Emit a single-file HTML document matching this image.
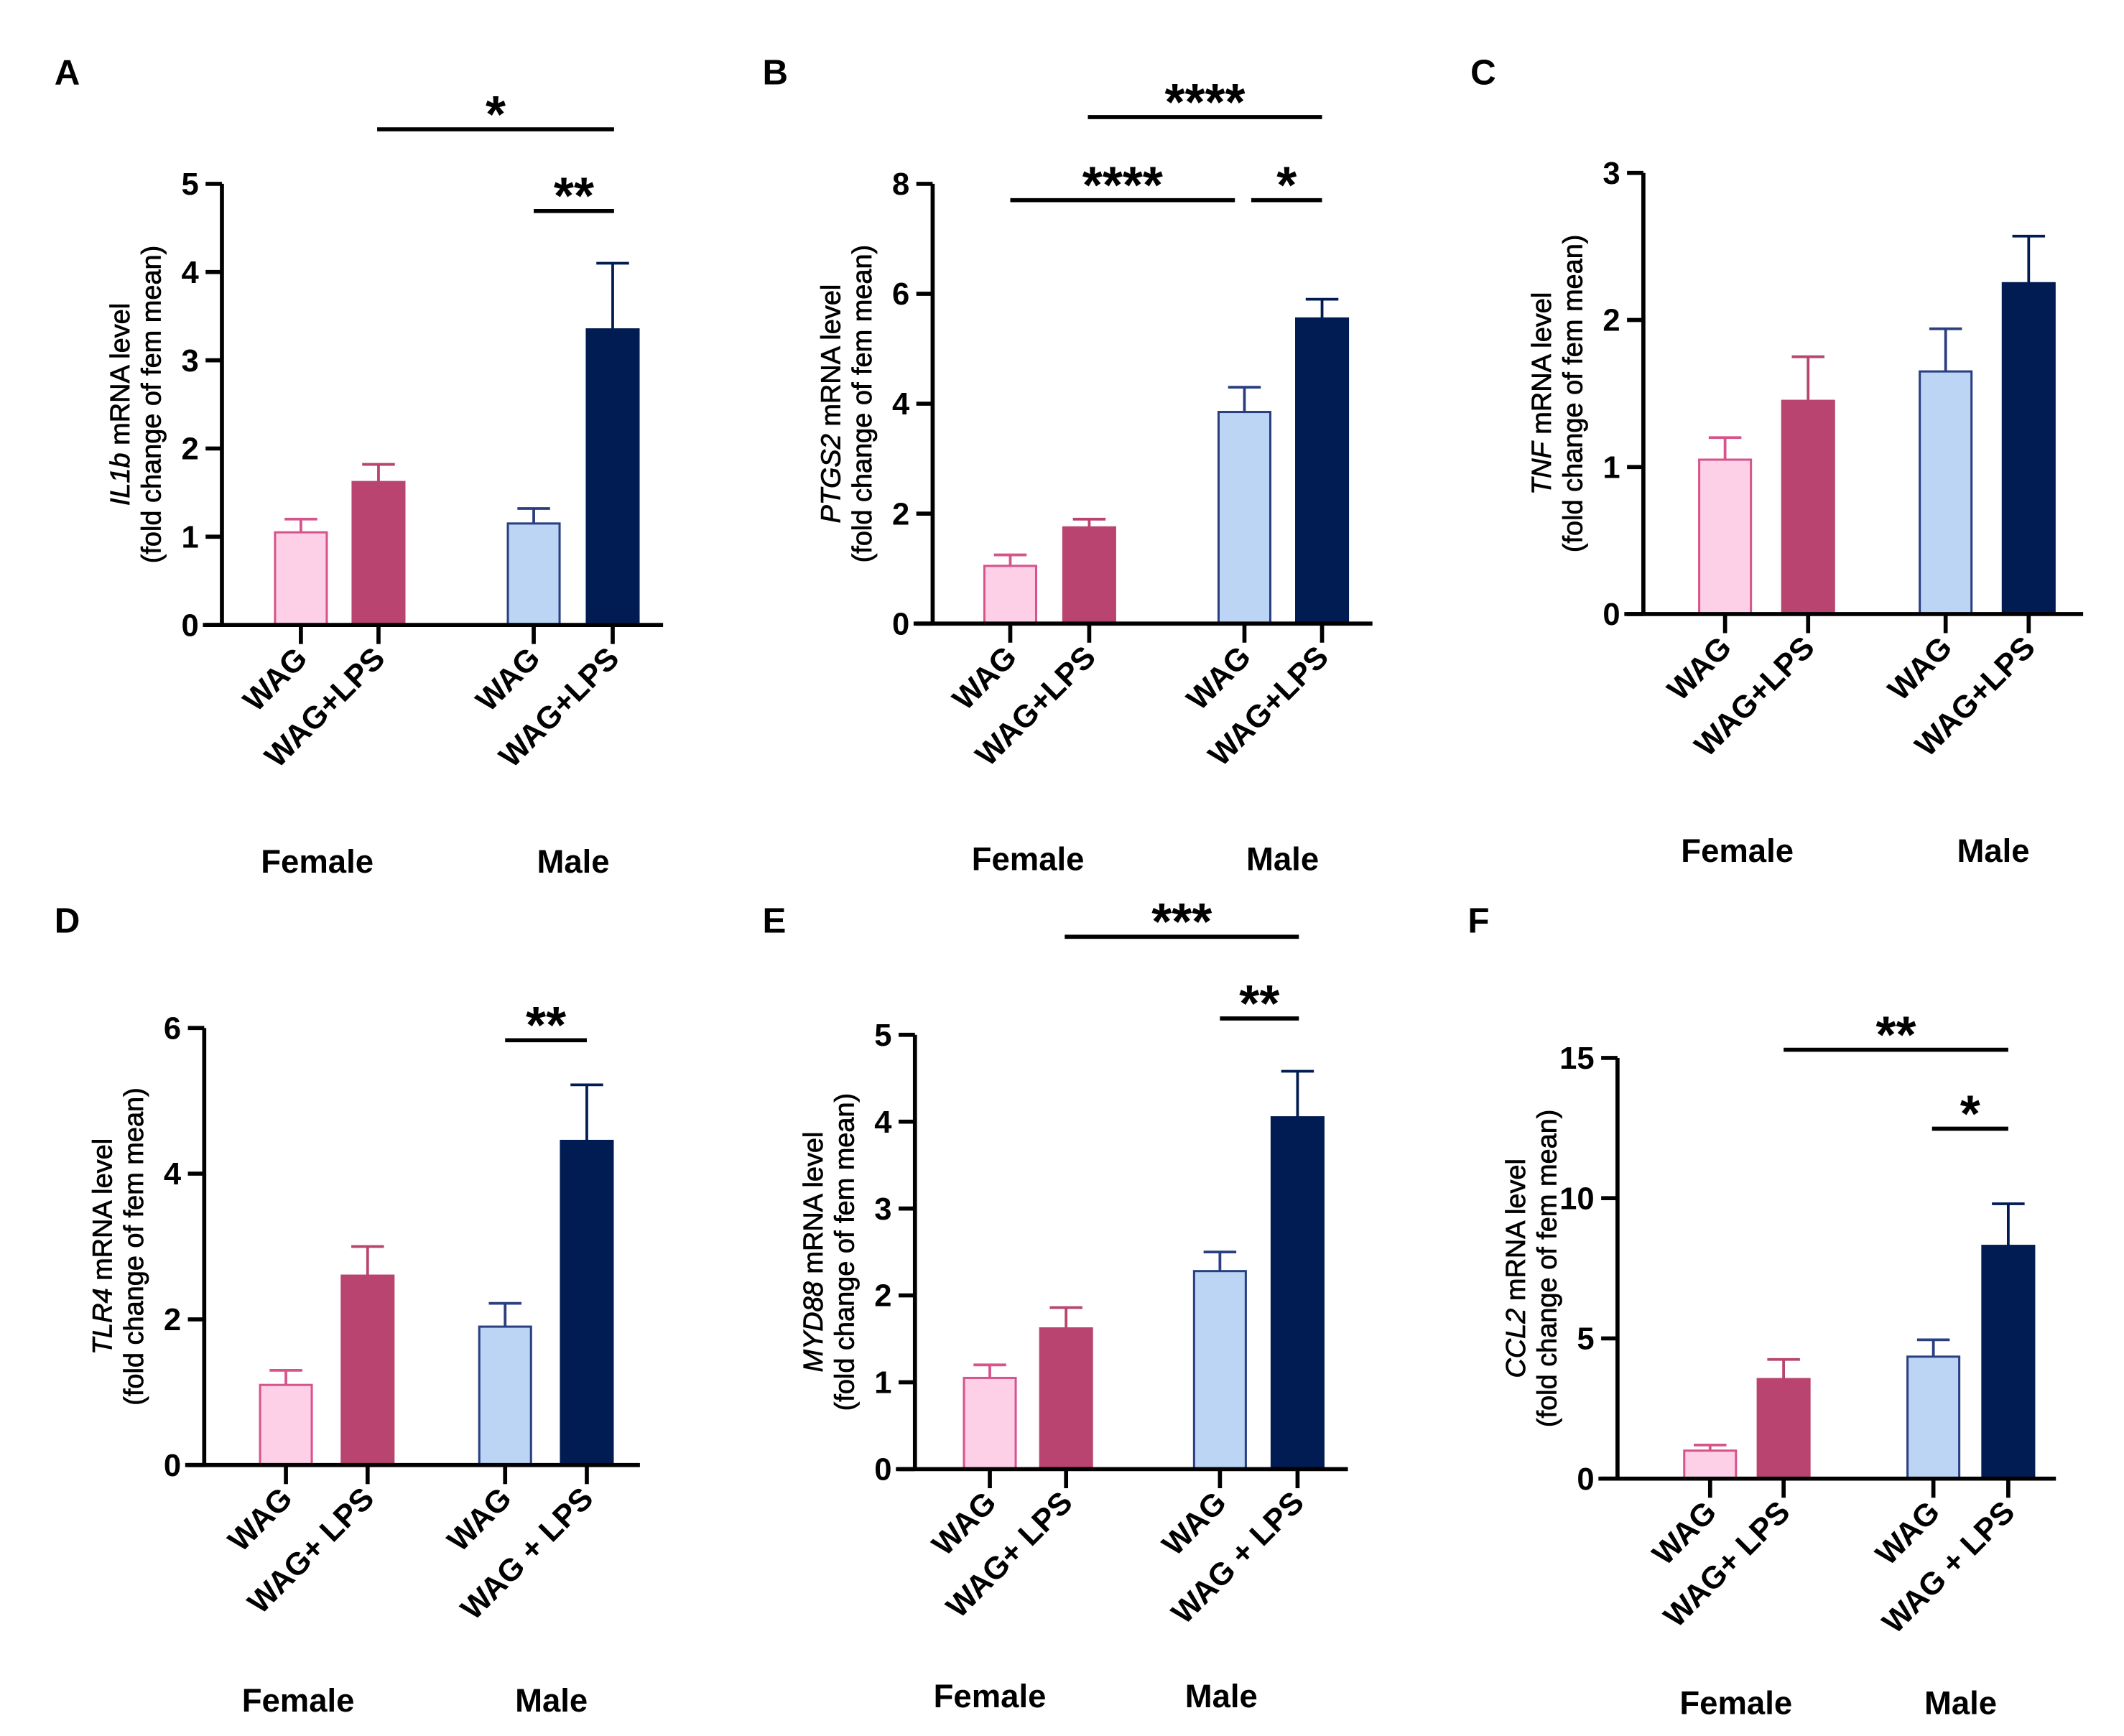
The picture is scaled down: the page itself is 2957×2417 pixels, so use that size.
<!DOCTYPE html>
<html><head><meta charset="utf-8"><style>
html,body{margin:0;padding:0;background:#fff;}
svg{display:block;font-family:"Liberation Sans",Arial,sans-serif;}
</style></head><body>
<svg id="fig" width="2957" height="2417" viewBox="0 0 1560 1275" preserveAspectRatio="none" xmlns="http://www.w3.org/2000/svg"></svg>
<script>
// Data per panel
const categories = ["WAG", "WAG+LPS", "WAG", "WAG+LPS"];
const groupLabels = ["Female", "Male"];
const valuesA = [1.05, 1.62, 1.15, 3.35];
const errorsA = [1.2, 1.82, 1.32, 4.1];
const valuesB = [1.05, 1.75, 3.85, 5.55];
const errorsB = [1.25, 1.9, 4.3, 5.9];
const valuesC = [1.05, 1.45, 1.65, 2.25];
const errorsC = [1.2, 1.75, 1.94, 2.57];
const valuesD = [1.1, 2.6, 1.9, 4.45];
const errorsD = [1.3, 3.0, 2.22, 5.22];
const valuesE = [1.05, 1.62, 2.28, 4.05];
const errorsE = [1.2, 1.86, 2.5, 4.58];
const valuesF = [1.0, 3.55, 4.35, 8.3];
const errorsF = [1.2, 4.25, 4.95, 9.8];
const ticksA = [0, 1, 2, 3, 4, 5];
const ticksB = [0, 2, 4, 6, 8];
const ticksC = [0, 1, 2, 3];
const ticksD = [0, 2, 4, 6];
const ticksE = [0, 1, 2, 3, 4, 5];
const ticksF = [0, 5, 10, 15];
const catsAlt = ["WAG", "WAG+ LPS", "WAG", "WAG + LPS"];

const NS = "http://www.w3.org/2000/svg";
const svg = document.getElementById("fig");
function mk(tag, attrs, parent, text) {
  const e = document.createElementNS(NS, tag);
  for (const k in attrs) e.setAttribute(k, attrs[k]);
  if (text !== undefined) e.textContent = text;
  (parent || svg).appendChild(e);
  return e;
}
const fills = ["#fdd0e8", "#b8446f", "#bcd5f5", "#001c52"];
const strokes = ["#d6548b", "#b8446f", "#2a3f80", "#001c52"];

function panel(p) {
  const g = mk("g", {});
  
  
  const ymax = p.ticks[p.ticks.length - 1];
  const ys = v => p.y0 - (v / ymax) * (p.y0 - p.ytop);
  const lbl = mk("text", {x: p.lx, y: p.ly, "font-size": 26, "font-weight": "bold"}, g, p.letter);
  
  
  p.values.forEach((v, i) => {
    const cx = p.bx[i], w = 38;
    const sc = strokes[i];
    const eb = mk("path", {d: `M${cx} ${ys(v)}V${ys(p.errors[i])}M${cx - 12} ${ys(p.errors[i])}H${cx + 12}`, stroke: sc, "stroke-width": 2, fill: "none"}, g);
    
    
    const r = mk("rect", {x: cx - w / 2, y: ys(v), width: w, height: p.y0 - ys(v), fill: fills[i], stroke: sc, "stroke-width": 1.6}, g);
    
    
    const tk = mk("line", {x1: cx, x2: cx, y1: p.y0, y2: p.y0 + 14, stroke: "#000", "stroke-width": 3}, g);
    
    
    const t = mk("text", {x: cx + 6, y: p.y0 + 26, "font-size": 23, "font-weight": "bold", "text-anchor": "end", transform: `rotate(-45 ${cx + 6} ${p.y0 + 26})`}, g, p.cats[i]);
    
    
  });
  const ax = mk("path", {d: `M${p.ax} ${p.ytop}V${p.y0}M${p.ax - 14} ${p.y0}H${p.xend}`, stroke: "#000", "stroke-width": 3, fill: "none"}, g);
  
  
  p.ticks.forEach(t => {
    const y = ys(t);
    const l = mk("line", {x1: p.ax - 12, x2: p.ax, y1: y, y2: y, stroke: "#000", "stroke-width": 3}, g);
    
    
    const tx = mk("text", {x: p.ax - 17, y: y + 8, "font-size": 23, "font-weight": "bold", "text-anchor": "end"}, g, String(t));
    
    
  });
  const yc = (p.y0 + p.ytop) / 2;
  const yt = mk("text", {transform: `translate(${p.ax - 45} ${yc}) rotate(-90)`, "font-size": 20, "text-anchor": "middle", stroke: "#000", "stroke-width": 0.4}, g);
  
  
  mk("tspan", {"font-style": "italic", x: 0, y: -23}, yt, p.gene);
  mk("tspan", {}, yt, " mRNA level");
  mk("tspan", {x: 0, y: 0}, yt, "(fold change of fem mean)");
  groupLabels.forEach((gl, i) => {
    const t = mk("text", {x: p.gx[i], y: p.gy, "font-size": 24, "font-weight": "bold", "text-anchor": "middle"}, g, gl);
    
    
  });
  p.sig.forEach(s => {
    const l = mk("line", {x1: s[0], x2: s[1], y1: s[2], y2: s[2], stroke: "#000", "stroke-width": 3}, g);
    
    
    const t = mk("text", {x: (s[0] + s[1]) / 2, y: s[2] + 2, "font-size": 38, "font-weight": "bold", "text-anchor": "middle"}, g, s[3]);
    
    
  });
}

panel({letter: "A", lx: 40, ly: 62, gene: "IL1b", values: valuesA, errors: errorsA, ticks: ticksA, cats: categories,
  ax: 163, y0: 459, ytop: 135, xend: 487, bx: [221, 278, 392, 450], gx: [233, 421], gy: 641,
  sig: [[277, 451, 95, "*"], [392, 451, 155, "**"]]});
panel({letter: "B", lx: 560, ly: 62, gene: "PTGS2", values: valuesB, errors: errorsB, ticks: ticksB, cats: categories,
  ax: 685, y0: 458, ytop: 135, xend: 1008, bx: [742, 800, 914, 971], gx: [755, 942], gy: 639,
  sig: [[742, 907, 147, "****"], [919, 971, 147, "*"], [799, 971, 86, "****"]]});
panel({letter: "C", lx: 1080, ly: 62, gene: "TNF", values: valuesC, errors: errorsC, ticks: ticksC, cats: categories,
  ax: 1207, y0: 451, ytop: 127, xend: 1530, bx: [1267, 1328, 1429, 1490], gx: [1276, 1464], gy: 633,
  sig: []});
panel({letter: "D", lx: 40, ly: 685, gene: "TLR4", values: valuesD, errors: errorsD, ticks: ticksD, cats: catsAlt,
  ax: 150, y0: 1076, ytop: 755, xend: 470, bx: [210, 270, 371, 431], gx: [219, 405], gy: 1257,
  sig: [[371, 431, 764, "**"]]});
panel({letter: "E", lx: 560, ly: 685, gene: "MYD88", values: valuesE, errors: errorsE, ticks: ticksE, cats: catsAlt,
  ax: 672, y0: 1079, ytop: 760, xend: 990, bx: [727, 783, 896, 953], gx: [727, 897], gy: 1254,
  sig: [[782, 954, 688, "***"], [896, 954, 748, "**"]]});
panel({letter: "F", lx: 1078, ly: 685, gene: "CCL2", values: valuesF, errors: errorsF, ticks: ticksF, cats: catsAlt,
  ax: 1188, y0: 1086, ytop: 777, xend: 1510, bx: [1256, 1310, 1420, 1475], gx: [1275, 1440], gy: 1259,
  sig: [[1310, 1475, 771, "**"], [1419, 1475, 829, "*"]]});
</script>
</body></html>
